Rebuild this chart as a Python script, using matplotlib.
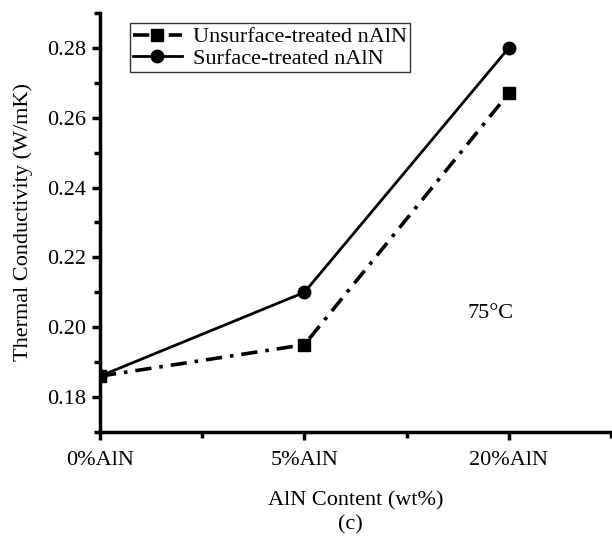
import matplotlib.pyplot as plt
from matplotlib.ticker import MultipleLocator

plt.rcParams['font.family'] = ['Liberation Serif', 'DejaVu Serif']

# data
categories = ["0%AlN", "5%AlN", "20%AlN"]
unsurface = [0.186, 0.195, 0.267]
surface = [0.186, 0.210, 0.280]

fig = plt.figure(figsize=(6.12, 5.4), dpi=100)
ax = fig.add_axes([0.1634, 0.2, 0.835, 0.776])

x = range(len(categories))
ax.plot(x, unsurface, color='black', linewidth=2.6, linestyle=(0, (4.5, 2.2, 1, 2.2)),
        marker='s', markersize=8, label="Unsurface-treated nAlN")
ax.plot(x, surface, color='black', linewidth=2.0, linestyle='-',
        marker='o', markersize=9, label="Surface-treated nAlN")

ax.set_xlim(0, 2.5)
ax.set_ylim(0.17, 0.29)
ax.set_xticks(list(x))
ax.set_xticklabels(categories)
ax.xaxis.set_minor_locator(MultipleLocator(0.5))
ax.yaxis.set_major_locator(MultipleLocator(0.02))
ax.yaxis.set_minor_locator(MultipleLocator(0.01))
ax.yaxis.set_major_formatter(plt.FormatStrFormatter('%.2f'))

for s in ['top', 'right']:
    ax.spines[s].set_visible(False)
for s in ['left', 'bottom']:
    ax.spines[s].set_linewidth(2.5)
ax.tick_params(which='major', direction='out', length=6, width=2.5, labelsize=16, pad=4)
ax.tick_params(which='minor', direction='out', length=4, width=2.5)
ax.tick_params(axis='x', pad=8)

ax.set_ylabel("Thermal Conductivity (W/mK)", fontsize=16, labelpad=10)
ax.set_xlabel("AlN Content (wt%)", fontsize=16, labelpad=15)
fig.text(0.572, 0.02, "(c)", fontsize=16, ha='center')
ax.text(1.91, 0.204, "75\u00b0C", fontsize=16, ha='center', va='center')

leg = ax.legend(loc='upper left', bbox_to_anchor=(0.058, 0.975), fontsize=16,
                frameon=True, fancybox=False, handlelength=2.2, borderpad=0.15,
                labelspacing=0.05, handletextpad=0.5, borderaxespad=0)
leg.get_frame().set_edgecolor('black')
leg.get_frame().set_linewidth(1.0)

fig.savefig("out.png", dpi=100)
